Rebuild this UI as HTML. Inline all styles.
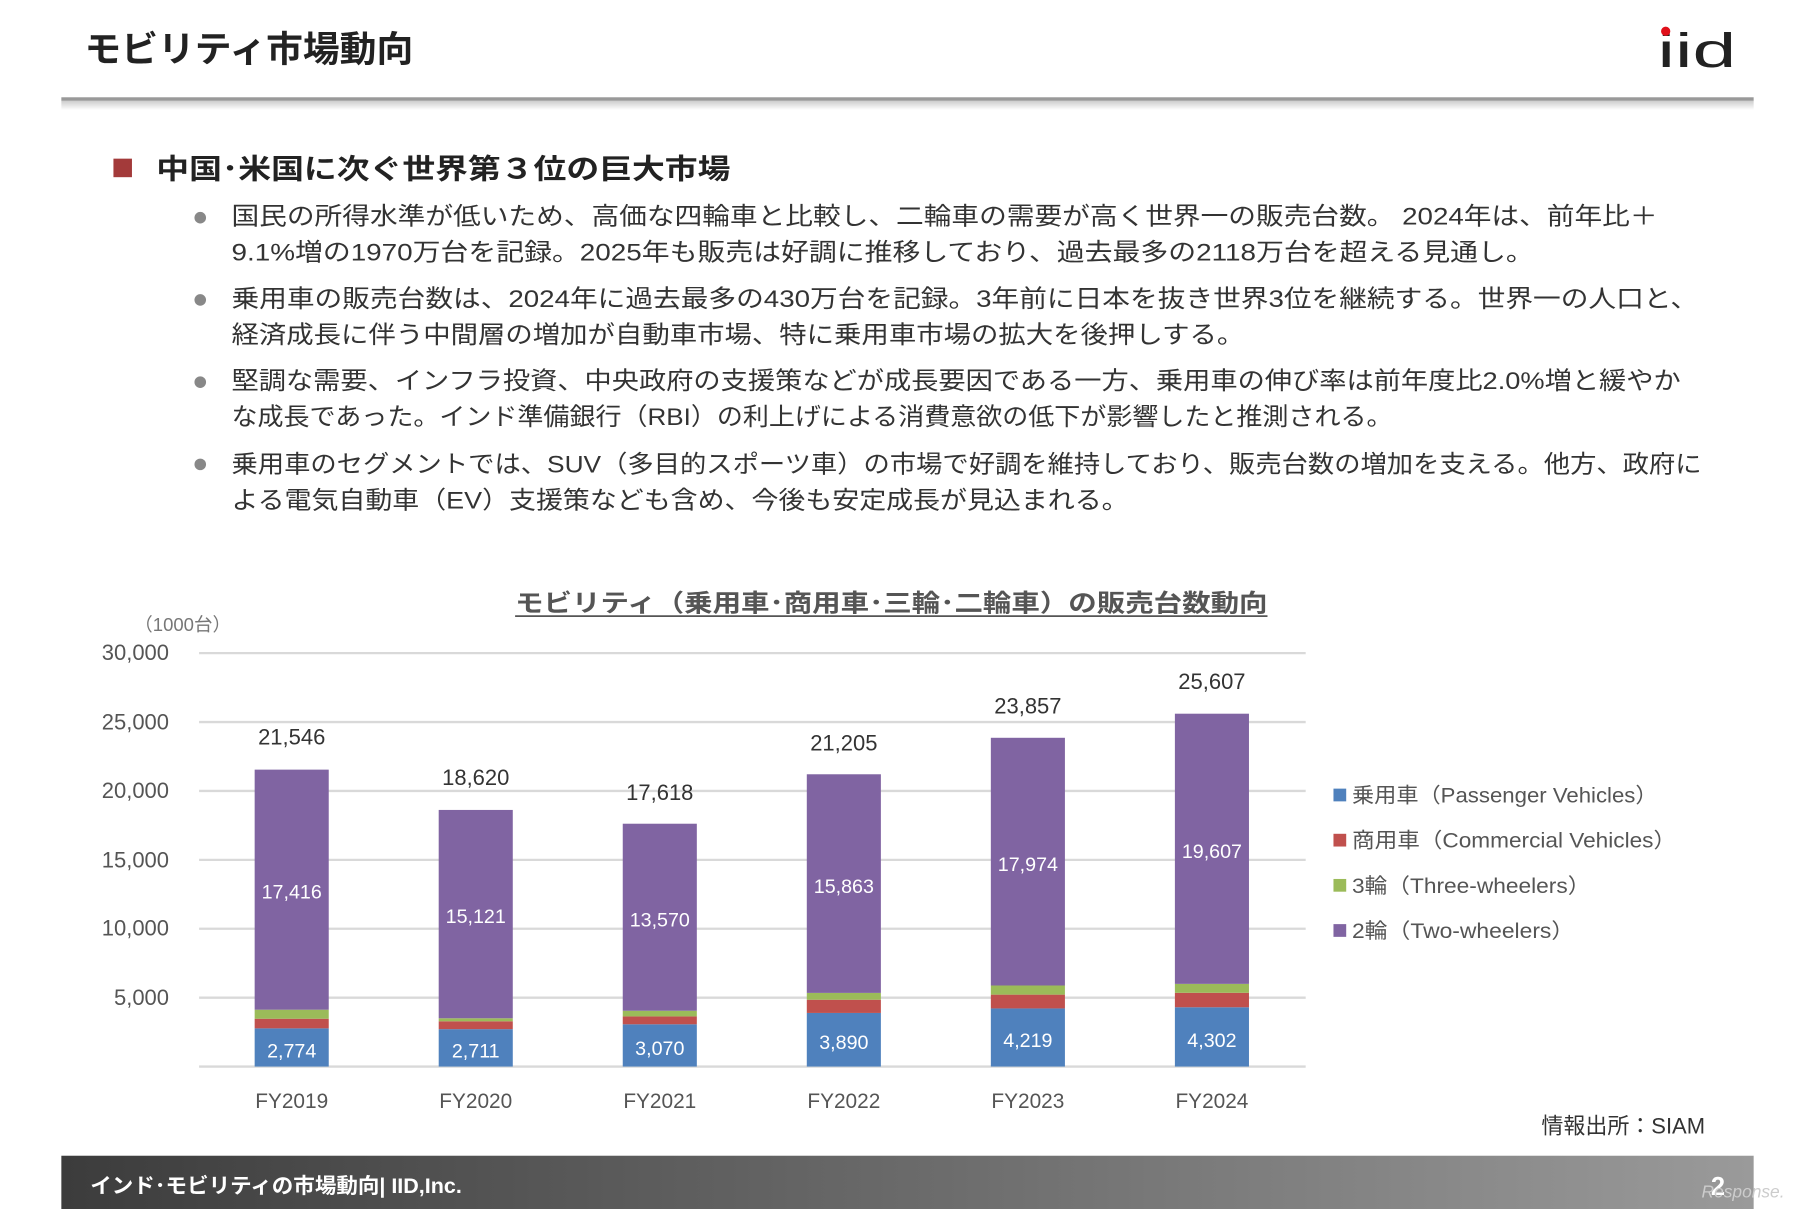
<!DOCTYPE html>
<html><head><meta charset="utf-8"><style>
html,body{margin:0;padding:0;background:#fff;width:1815px;height:1209px;overflow:hidden}
svg{display:block}
text{font-family:"Liberation Sans","Noto Sans CJK JP",sans-serif}
</style></head><body>
<svg width="1815" height="1209" viewBox="0 0 1568 1044" preserveAspectRatio="none" xmlns="http://www.w3.org/2000/svg">
<defs>
<linearGradient id="sh" x1="0" y1="0" x2="0" y2="1"><stop offset="0" stop-color="#999"/><stop offset="1" stop-color="#fff"/></linearGradient>
<linearGradient id="ft" x1="0" y1="0" x2="1" y2="0"><stop offset="0" stop-color="#3c3c3c"/><stop offset="0.5" stop-color="#6a6a6a"/><stop offset="1" stop-color="#9a9a9a"/></linearGradient>
</defs>
<text x="73" y="53" font-size="31" font-weight="bold" fill="#222" textLength="284" lengthAdjust="spacingAndGlyphs">モビリティ市場動向</text>
<text x="1432" y="58" font-size="42" fill="#222" textLength="68" lengthAdjust="spacingAndGlyphs">iid</text>
<circle cx="1439" cy="27" r="4" fill="#e0101a"/>
<rect x="53" y="84" width="1462" height="3" fill="#999"/>
<rect x="53" y="87" width="1462" height="8" fill="url(#sh)" opacity="0.5"/>
<rect x="98" y="137" width="16" height="16" fill="#a33a3a"/>
<text x="135" y="154" font-size="24" font-weight="bold" fill="#222" textLength="496" lengthAdjust="spacingAndGlyphs">中国･米国に次ぐ世界第３位の巨大市場</text>
<g font-size="21" fill="#333" lengthAdjust="spacingAndGlyphs">
<circle cx="173" cy="188" r="5" fill="#888"/><circle cx="173" cy="259" r="5" fill="#888"/><circle cx="173" cy="330" r="5" fill="#888"/><circle cx="173" cy="401" r="5" fill="#888"/>
<text x="200" y="194" textLength="1232" lengthAdjust="spacingAndGlyphs">国民の所得水準が低いため、高価な四輪車と比較し、二輪車の需要が高く世界一の販売台数。 2024年は、前年比＋</text>
<text x="200" y="225" textLength="1125" lengthAdjust="spacingAndGlyphs">9.1%増の1970万台を記録。2025年も販売は好調に推移しており、過去最多の2118万台を超える見通し。</text>
<text x="200" y="265" textLength="1267" lengthAdjust="spacingAndGlyphs">乗用車の販売台数は、2024年に過去最多の430万台を記録。3年前に日本を抜き世界3位を継続する。世界一の人口と、</text>
<text x="200" y="296" textLength="875" lengthAdjust="spacingAndGlyphs">経済成長に伴う中間層の増加が自動車市場、特に乗用車市場の拡大を後押しする。</text>
<text x="200" y="336" textLength="1252" lengthAdjust="spacingAndGlyphs">堅調な需要、インフラ投資、中央政府の支援策などが成長要因である一方、乗用車の伸び率は前年度比2.0%増と緩やか</text>
<text x="200" y="367" textLength="1003" lengthAdjust="spacingAndGlyphs">な成長であった。インド準備銀行（RBI）の利上げによる消費意欲の低下が影響したと推測される。</text>
<text x="200" y="408" textLength="1270" lengthAdjust="spacingAndGlyphs">乗用車のセグメントでは、SUV（多目的スポーツ車）の市場で好調を維持しており、販売台数の増加を支える。他方、政府に</text>
<text x="200" y="439" textLength="775" lengthAdjust="spacingAndGlyphs">よる電気自動車（EV）支援策なども含め、今後も安定成長が見込まれる。</text>
</g>
<text x="445" y="528" font-size="21" font-weight="bold" fill="#555" textLength="650" lengthAdjust="spacingAndGlyphs">モビリティ（乗用車･商用車･三輪･二輪車）の販売台数動向</text>
<line x1="445" y1="532" x2="1095" y2="532" stroke="#555" stroke-width="1.5"/>
<text x="116" y="545" font-size="16" fill="#777">（1000台）</text>
<g stroke="#d9d9d9" stroke-width="2">
<line x1="172" y1="564" x2="1128" y2="564"/><line x1="172" y1="623.5" x2="1128" y2="623.5"/><line x1="172" y1="683" x2="1128" y2="683"/><line x1="172" y1="742.5" x2="1128" y2="742.5"/><line x1="172" y1="802" x2="1128" y2="802"/><line x1="172" y1="861.5" x2="1128" y2="861.5"/><line x1="172" y1="921" x2="1128" y2="921"/>
</g>
<g font-size="19" fill="#555" text-anchor="end">
<text x="146" y="570">30,000</text><text x="146" y="630">25,000</text><text x="146" y="689">20,000</text><text x="146" y="749">15,000</text><text x="146" y="808">10,000</text><text x="146" y="868">5,000</text>
</g>
<g>
<rect x="220" y="888" width="64" height="33" fill="#4f81bd"/><rect x="220" y="879.7" width="64" height="8.3" fill="#c0504d"/><rect x="220" y="871.9" width="64" height="7.8" fill="#9bbb59"/><rect x="220" y="664.6" width="64" height="207.3" fill="#8064a2"/>
<rect x="379" y="888.7" width="64" height="32.3" fill="#4f81bd"/><rect x="379" y="881.9" width="64" height="6.8" fill="#c0504d"/><rect x="379" y="879.3" width="64" height="2.6" fill="#9bbb59"/><rect x="379" y="699.4" width="64" height="179.9" fill="#8064a2"/>
<rect x="538" y="884.5" width="64" height="36.5" fill="#4f81bd"/><rect x="538" y="877.7" width="64" height="6.8" fill="#c0504d"/><rect x="538" y="872.8" width="64" height="4.9" fill="#9bbb59"/><rect x="538" y="711.3" width="64" height="161.5" fill="#8064a2"/>
<rect x="697" y="874.7" width="64" height="46.3" fill="#4f81bd"/><rect x="697" y="863.3" width="64" height="11.4" fill="#c0504d"/><rect x="697" y="857.4" width="64" height="5.9" fill="#9bbb59"/><rect x="697" y="668.6" width="64" height="188.8" fill="#8064a2"/>
<rect x="856" y="870.8" width="64" height="50.2" fill="#4f81bd"/><rect x="856" y="858.9" width="64" height="11.9" fill="#c0504d"/><rect x="856" y="851" width="64" height="7.9" fill="#9bbb59"/><rect x="856" y="637.1" width="64" height="213.9" fill="#8064a2"/>
<rect x="1015" y="869.8" width="64" height="51.2" fill="#4f81bd"/><rect x="1015" y="857.3" width="64" height="12.5" fill="#c0504d"/><rect x="1015" y="849.6" width="64" height="7.7" fill="#9bbb59"/><rect x="1015" y="616.3" width="64" height="233.3" fill="#8064a2"/>
</g>
<g font-size="17" fill="#fff" text-anchor="middle" style="font-family:'Liberation Serif',serif">
<text x="252" y="913">2,774</text><text x="411" y="913">2,711</text><text x="570" y="911">3,070</text><text x="729" y="906">3,890</text><text x="888" y="904">4,219</text><text x="1047" y="904">4,302</text>
<text x="252" y="776">17,416</text><text x="411" y="797">15,121</text><text x="570" y="800">13,570</text><text x="729" y="771">15,863</text><text x="888" y="752">17,974</text><text x="1047" y="741">19,607</text>
</g>
<g font-size="19" fill="#333" text-anchor="middle">
<text x="252" y="643">21,546</text><text x="411" y="678">18,620</text><text x="570" y="691">17,618</text><text x="729" y="648">21,205</text><text x="888" y="616">23,857</text><text x="1047" y="595">25,607</text>
</g>
<g font-size="18" fill="#555" text-anchor="middle">
<text x="252" y="957">FY2019</text><text x="411" y="957">FY2020</text><text x="570" y="957">FY2021</text><text x="729" y="957">FY2022</text><text x="888" y="957">FY2023</text><text x="1047" y="957">FY2024</text>
</g>
<g font-size="18" fill="#555">
<rect x="1152" y="681" width="11" height="11" fill="#4f81bd"/><text x="1168" y="693" textLength="264" lengthAdjust="spacingAndGlyphs">乗用車（Passenger Vehicles）</text>
<rect x="1152" y="720" width="11" height="11" fill="#c0504d"/><text x="1168" y="732" textLength="280" lengthAdjust="spacingAndGlyphs">商用車（Commercial Vehicles）</text>
<rect x="1152" y="759" width="11" height="11" fill="#9bbb59"/><text x="1168" y="771" textLength="206" lengthAdjust="spacingAndGlyphs">3輪（Three-wheelers）</text>
<rect x="1152" y="798" width="11" height="11" fill="#8064a2"/><text x="1168" y="810" textLength="192" lengthAdjust="spacingAndGlyphs">2輪（Two-wheelers）</text>
</g>
<text x="1473" y="979" font-size="19" fill="#333" text-anchor="end">情報出所：SIAM</text>
<rect x="53" y="998" width="1462" height="46" fill="url(#ft)"/>
<text x="78" y="1030" font-size="18" font-weight="bold" fill="#fff" textLength="321" lengthAdjust="spacingAndGlyphs">インド･モビリティの市場動向| IID,Inc.</text>
<text x="1478" y="1032" font-size="22" font-weight="bold" fill="#fff">2</text>
<text x="1470" y="1034" font-size="15" font-style="italic" fill="#ccc">Response.</text>
</svg>
</body></html>
